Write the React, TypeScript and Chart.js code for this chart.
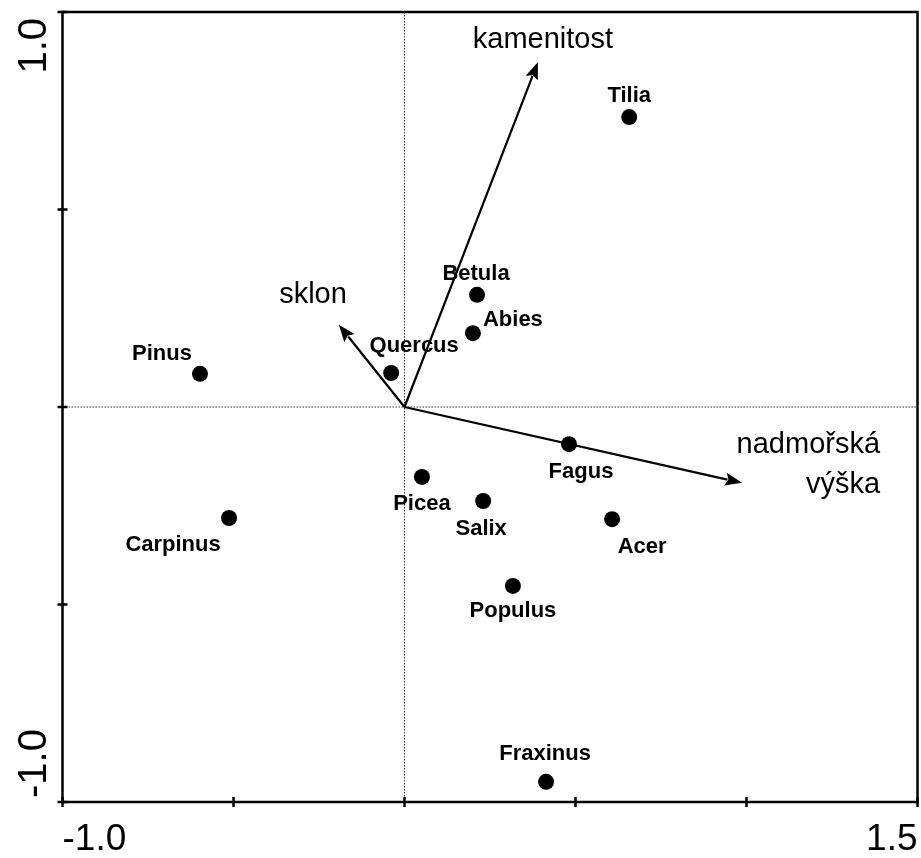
import React, { useEffect, useRef } from "react";
import { Chart, registerables } from "chart.js";

Chart.register(...registerables);

// ---- data ----
const species = ["Tilia", "Betula", "Abies", "Quercus", "Pinus", "Fagus", "Picea", "Salix", "Acer", "Carpinus", "Populus", "Fraxinus"];
const speciesX = [0.657, 0.212, 0.2, -0.039, -0.598, 0.481, 0.051, 0.23, 0.607, -0.513, 0.317, 0.414];
const speciesY = [0.734, 0.284, 0.187, 0.086, 0.084, -0.094, -0.177, -0.238, -0.284, -0.281, -0.453, -0.949];

const envNames = ["kamenitost", "sklon", "nadmořská výška"];
const envX = [0.39, -0.192, 0.987];
const envY = [0.873, 0.208, -0.192];

const xTicks = [-1.0, -0.5, 0, 0.5, 1.0, 1.5];
const yTicks = [-1.0, -0.5, 0, 0.5, 1.0];
const xTickLabels = ["-1.0", "1.5"];
const yTickLabels = ["-1.0", "1.0"];

// ---- style (label placement in px relative to point) ----
const labelOffsets: Record<string, [number, number]> = {
  Tilia: [0, -15],
  Betula: [-1, -15],
  Abies: [40, -7],
  Quercus: [23, -21],
  Pinus: [-38, -14],
  Carpinus: [-56, 33],
  Fagus: [12, 34],
  Picea: [0, 33],
  Salix: [-2, 34],
  Acer: [30, 34],
  Populus: [0, 31],
  Fraxinus: [-1, -22],
};

const FONT = "'Liberation Sans', Arial, sans-serif";

const biplotPlugin = {
  id: "biplot",
  beforeDatasetsDraw(chart: any) {
    const { ctx, chartArea: a, scales } = chart;
    const xs = scales.x, ys = scales.y;
    const x0 = xs.getPixelForValue(0), y0 = ys.getPixelForValue(0);
    ctx.save();
    ctx.strokeStyle = "#333";
    ctx.lineWidth = 1;
    ctx.setLineDash([1.5, 1.5]);
    ctx.beginPath();
    ctx.moveTo(x0, a.top);
    ctx.lineTo(x0, a.bottom);
    ctx.moveTo(a.left, y0);
    ctx.lineTo(a.right, y0);
    ctx.stroke();
    ctx.setLineDash([]);

    // frame
    ctx.strokeStyle = "#000";
    ctx.lineWidth = 2.5;
    ctx.strokeRect(a.left, a.top, a.right - a.left, a.bottom - a.top);

    // ticks
    ctx.lineWidth = 2.5;
    ctx.beginPath();
    for (const v of xTicks) {
      const px = xs.getPixelForValue(v);
      ctx.moveTo(px, a.bottom - 5);
      ctx.lineTo(px, a.bottom + 5);
    }
    for (const v of yTicks) {
      const py = ys.getPixelForValue(v);
      ctx.moveTo(a.left - 5, py);
      ctx.lineTo(a.left + 5, py);
    }
    ctx.stroke();

    // tick labels
    ctx.fillStyle = "#000";
    ctx.font = `37px ${FONT}`;
    ctx.textBaseline = "alphabetic";
    ctx.textAlign = "left";
    ctx.fillText(xTickLabels[0], xs.getPixelForValue(-1.0), a.bottom + 48);
    ctx.textAlign = "right";
    ctx.fillText(xTickLabels[1], xs.getPixelForValue(1.5), a.bottom + 48);

    ctx.font = `40px ${FONT}`;
    ctx.save();
    ctx.translate(a.left - 17, ys.getPixelForValue(-1.0) - 4);
    ctx.rotate(-Math.PI / 2);
    ctx.textAlign = "left";
    ctx.fillText(yTickLabels[0], 0, 0);
    ctx.restore();
    ctx.save();
    ctx.translate(a.left - 17, ys.getPixelForValue(1.0) + 6);
    ctx.rotate(-Math.PI / 2);
    ctx.textAlign = "right";
    ctx.fillText(yTickLabels[1], 0, 0);
    ctx.restore();

    // arrows
    ctx.strokeStyle = "#000";
    ctx.fillStyle = "#000";
    ctx.lineWidth = 2.2;
    for (let i = 0; i < envNames.length; i++) {
      const tx = xs.getPixelForValue(envX[i]);
      const ty = ys.getPixelForValue(envY[i]);
      const ang = Math.atan2(ty - y0, tx - x0);
      const hl = 17, hw = 6.5;
      const bx = tx - hl * Math.cos(ang), by = ty - hl * Math.sin(ang);
      ctx.beginPath();
      ctx.moveTo(x0, y0);
      ctx.lineTo(bx + 2 * Math.cos(ang), by + 2 * Math.sin(ang));
      ctx.stroke();
      ctx.beginPath();
      ctx.moveTo(tx, ty);
      ctx.lineTo(bx + hw * Math.sin(ang), by - hw * Math.cos(ang));
      ctx.lineTo(bx + 3 * Math.cos(ang), by + 3 * Math.sin(ang));
      ctx.lineTo(bx - hw * Math.sin(ang), by + hw * Math.cos(ang));
      ctx.closePath();
      ctx.fill();
    }

    // arrow labels
    ctx.font = `29px ${FONT}`;
    {
      const tx = xs.getPixelForValue(envX[0]), ty = ys.getPixelForValue(envY[0]);
      ctx.textAlign = "center";
      ctx.fillText(envNames[0], tx + 5, ty - 14);
    }
    {
      const tx = xs.getPixelForValue(envX[1]), ty = ys.getPixelForValue(envY[1]);
      ctx.textAlign = "right";
      ctx.fillText(envNames[1], tx + 8, ty - 22);
    }
    {
      const tx = xs.getPixelForValue(envX[2]), ty = ys.getPixelForValue(envY[2]);
      ctx.textAlign = "right";
      const parts = envNames[2].split(" ");
      ctx.fillText(parts[0], tx + 138, ty - 30);
      ctx.fillText(parts[1], tx + 138, ty + 10);
    }
    ctx.restore();
  },
  afterDatasetsDraw(chart: any) {
    const { ctx, scales } = chart;
    const xs = scales.x, ys = scales.y;
    ctx.save();
    ctx.fillStyle = "#000";
    ctx.font = `bold 22px ${FONT}`;
    ctx.textAlign = "center";
    ctx.textBaseline = "alphabetic";
    for (let i = 0; i < species.length; i++) {
      const px = xs.getPixelForValue(speciesX[i]);
      const py = ys.getPixelForValue(speciesY[i]);
      const [dx, dy] = labelOffsets[species[i]] || [0, -14];
      ctx.fillText(species[i], px + dx, py + dy);
    }
    ctx.restore();
  },
};

export default function App() {
  const ref = useRef<HTMLCanvasElement>(null);
  useEffect(() => {
    if (!ref.current) return;
    const chart = new Chart(ref.current, {
      type: "scatter",
      data: {
        datasets: [
          {
            label: "species",
            data: species.map((_, i) => ({ x: speciesX[i], y: speciesY[i] })),
            backgroundColor: "#000",
            borderColor: "#000",
            borderWidth: 0,
            pointRadius: 8,
          },
        ],
      },
      options: {
        responsive: false,
        animation: false,
        devicePixelRatio: 1,
        layout: { autoPadding: false, padding: { left: 62.5, top: 12, right: 3.5, bottom: 56 } },
        plugins: { legend: { display: false }, tooltip: { enabled: false } },
        scales: {
          x: { type: "linear", min: -1, max: 1.5, display: false },
          y: { type: "linear", min: -1, max: 1, display: false },
        },
      },
      plugins: [biplotPlugin],
    });
    return () => chart.destroy();
  }, []);
  return (
    <div style={{ position: "fixed", left: 0, top: 0, width: 921, height: 858, background: "#fff" }}>
      <canvas ref={ref} width={921} height={858} style={{ display: "block" }} />
    </div>
  );
}
